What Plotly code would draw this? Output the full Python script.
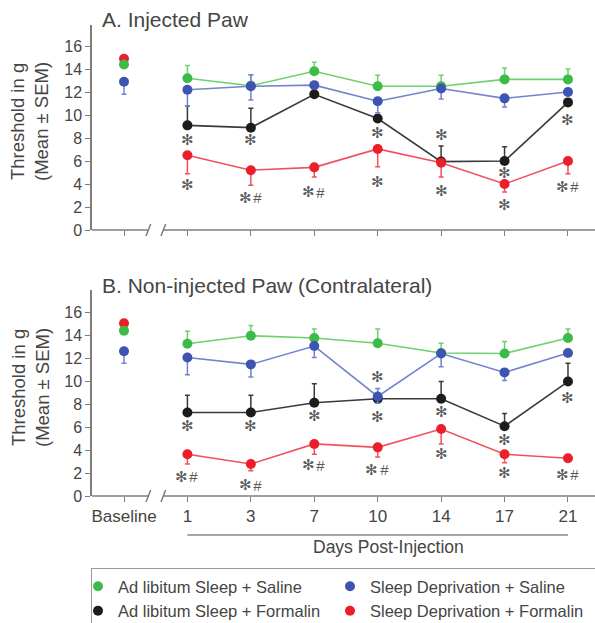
import plotly.graph_objects as go

# ---------------- data ----------------
categories = ["Baseline", "1", "3", "7", "10", "14", "17", "21"]
series_names = ["Ad libitum Sleep + Saline", "Sleep Deprivation + Saline",
                "Ad libitum Sleep + Formalin", "Sleep Deprivation + Formalin"]

# Panel A: Injected Paw (baseline value, then days 1..21)
A_green_base, A_blue_base, A_red_base = 14.4, 12.9, 14.9
A_blue_base_dn = 1.1
A_green = [13.2, 12.55, 13.8, 12.5, 12.5, 13.1, 13.1]
A_green_up = [1.1, 0.95, 0.8, 0.95, 0.95, 1.0, 0.9]
A_blue = [12.2, 12.5, 12.6, 11.2, 12.3, 11.45, 12.0]
A_blue_up = [0, 1.0, 0, 0, 0, 0, 0]
A_blue_dn = [1.4, 1.2, 0.3, 1.0, 0.9, 0.75, 0.3]
A_black = [9.1, 8.9, 11.8, 9.7, 5.95, 6.0, 11.1]
A_black_up = [1.7, 1.7, 0.2, 0.3, 1.35, 1.25, 0.3]
A_red = [6.5, 5.2, 5.45, 7.05, 5.85, 4.0, 6.0]
A_red_dn = [1.6, 1.3, 0.85, 1.55, 1.25, 0.7, 1.1]
A_sig_x = [1, 1, 2, 2, 3, 4, 4, 5, 5, 6, 6, 7, 7]
A_sig_y = [7.8, 3.9, 7.8, 2.8, 3.3, 8.4, 4.2, 8.3, 3.4, 5.0, 2.2, 9.6, 3.75]
A_sig_t = ["*", "*", "*", "*#", "*#", "*", "*", "*", "*", "*", "*", "*", "*#"]

# Panel B: Non-injected Paw
B_green_base, B_blue_base, B_red_base = 14.45, 12.65, 15.1
B_blue_base_dn = 1.05
B_green = [13.3, 14.0, 13.8, 13.35, 12.5, 12.45, 13.8]
B_green_up = [1.1, 0.9, 0.8, 1.25, 0.85, 1.05, 0.8]
B_blue = [12.1, 11.5, 13.1, 8.7, 12.45, 10.8, 12.5]
B_blue_up = [0, 0, 0, 0.7, 0, 0, 0]
B_blue_dn = [1.5, 1.1, 1.0, 0.6, 1.15, 0.7, 0.2]
B_black = [7.3, 7.3, 8.15, 8.5, 8.5, 6.1, 10.0]
B_black_up = [1.5, 1.5, 1.65, 0, 1.5, 1.1, 1.6]
B_red = [3.65, 2.8, 4.55, 4.25, 5.85, 3.65, 3.3]
B_red_dn = [0.85, 0.6, 0.9, 0.85, 1.3, 0.75, 0.2]
B_sig_x = [1, 1, 2, 2, 3, 3, 4, 4, 4, 5, 5, 6, 6, 7, 7]
B_sig_y = [6.1, 1.7, 6.1, 0.95, 7.0, 2.7, 10.4, 6.9, 2.3, 7.35, 3.7, 4.9, 2.0, 8.6, 1.85]
B_sig_t = ["*", "*#", "*", "*#", "*", "*#", "*", "*", "*#", "*", "*", "*", "*", "*", "*#"]

yticks = [0, 2, 4, 6, 8, 10, 12, 14, 16]

# ---------------- style ----------------
W, H = 595, 623
FONT = "Liberation Sans, Arial, sans-serif"
TXT = "#454545"
AX = "#7d7d7d"
SIG = "#5a5a5a"
mk = {"green": "#3dbb48", "blue": "#3d55b0", "black": "#1c1c1c", "red": "#ea1f2b"}
ln = {"green": "#6fd070", "blue": "#7184cc", "black": "#3a3a3a", "red": "#f2515a"}

def py(p):
    return 1 - p / H

def px(p):
    return p / W

fig = go.Figure()
day_x = list(range(1, len(categories)))

def add_panel(xa, ya, g, gu, b, bu, bd, k, ku, r, rd, gb, bb, bbd, rb):
    zeros = [0] * len(day_x)
    specs = [
        ("black", k, ku, zeros),
        ("red", r, zeros, rd),
        ("green", g, gu, zeros),
        ("blue", b, bu, bd),
    ]
    for key, vals, up, dn in specs:
        fig.add_trace(go.Scatter(
            x=day_x, y=vals, mode="lines+markers", xaxis=xa, yaxis=ya,
            line=dict(color=ln[key], width=1.6),
            marker=dict(color=mk[key], size=10),
            error_y=dict(type="data", symmetric=False, array=up, arrayminus=dn,
                         color=ln[key], thickness=1.5, width=2.5),
            showlegend=False, hoverinfo="skip"))
    base = [("red", rb, 0), ("green", gb, 0), ("blue", bb, bbd)]
    for key, v, dn in base:
        fig.add_trace(go.Scatter(
            x=[0], y=[v], mode="markers", xaxis=xa, yaxis=ya,
            marker=dict(color=mk[key], size=10),
            error_y=dict(type="data", symmetric=False, array=[0], arrayminus=[dn],
                         color=ln[key], thickness=1.5, width=2.5),
            showlegend=False, hoverinfo="skip"))

add_panel("x", "y", A_green, A_green_up, A_blue, A_blue_up, A_blue_dn,
          A_black, A_black_up, A_red, A_red_dn,
          A_green_base, A_blue_base, A_blue_base_dn, A_red_base)
add_panel("x2", "y2", B_green, B_green_up, B_blue, B_blue_up, B_blue_dn,
          B_black, B_black_up, B_red, B_red_dn,
          B_green_base, B_blue_base, B_blue_base_dn, B_red_base)

# legend-only entries
for name, key in zip(series_names, ["green", "blue", "black", "red"]):
    fig.add_trace(go.Scatter(x=[None], y=[None], mode="markers", name=name,
                             marker=dict(color=mk[key], size=10), xaxis="x2", yaxis="y2"))

# ---------------- layout ----------------
xr = [-0.5045, 7.426]
xcommon = dict(range=xr, tickmode="array", tickvals=list(range(len(categories))),
               ticks="outside", ticklen=5, tickwidth=1.3, tickcolor=AX,
               showline=False, showgrid=False, zeroline=False,
               domain=[px(92), 1.0], fixedrange=True)
ycommon = dict(tickmode="array", tickvals=yticks, ticks="outside", ticklen=5,
               tickwidth=1.3, tickcolor=AX, showline=True, linecolor=AX, linewidth=1.5,
               showgrid=False, zeroline=False, tickfont=dict(size=16, color=TXT, family=FONT),
               fixedrange=True)

fig.update_layout(
    width=W, height=H, margin=dict(l=0, r=0, t=0, b=0, autoexpand=False),
    paper_bgcolor="white", plot_bgcolor="white",
    font=dict(family=FONT, color=TXT),
    xaxis=dict(**xcommon, anchor="y", showticklabels=False),
    yaxis=dict(**ycommon, anchor="x", domain=[py(230), py(25)], range=[0, 17.83]),
    xaxis2=dict(**xcommon, anchor="y2", showticklabels=True, ticktext=categories,
                tickfont=dict(size=17, color=TXT, family=FONT)),
    yaxis2=dict(**ycommon, anchor="x2", domain=[py(496), py(290)], range=[0, 18.0]),
    showlegend=True,
    legend=dict(orientation="h", x=px(91), xanchor="left", y=py(568), yanchor="top",
                entrywidth=221, entrywidthmode="pixels", indentation=-14,
                bordercolor="#9a9a9a", borderwidth=1, bgcolor="white",
                font=dict(size=16.5, color=TXT, family=FONT), traceorder="normal"),
)

shapes = []
for xa, base_px in [("x", 230), ("x2", 496)]:
    # broken x-axis line
    shapes.append(dict(type="line", xref=xa, yref="paper", x0=xr[0], x1=0.384,
                       y0=py(base_px), y1=py(base_px), line=dict(color=AX, width=1.5)))
    shapes.append(dict(type="line", xref=xa, yref="paper", x0=0.62, x1=xr[1],
                       y0=py(base_px), y1=py(base_px), line=dict(color=AX, width=1.5)))
    for cx in [0.384, 0.62]:
        shapes.append(dict(type="line", xref=xa, yref="paper", x0=cx - 0.037, x1=cx + 0.037,
                           y0=py(base_px + 6), y1=py(base_px - 6),
                           line=dict(color=AX, width=1.5)))
# "Days Post-Injection" bracket line
shapes.append(dict(type="line", xref="x2", yref="paper", x0=1, x1=7,
                   y0=py(535), y1=py(535), line=dict(color="#8a8a8a", width=1.5)))
fig.update_layout(shapes=shapes)

ann = []
ann.append(dict(text="A. Injected Paw", xref="paper", yref="paper", x=px(100), y=py(20),
                xanchor="left", yanchor="middle", showarrow=False,
                font=dict(size=21, color=TXT, family=FONT)))
ann.append(dict(text="B. Non-injected Paw (Contralateral)", xref="paper", yref="paper",
                x=px(100), y=py(285), xanchor="left", yanchor="middle", showarrow=False,
                font=dict(size=21, color=TXT, family=FONT)))
for cy in [122, 388]:
    ann.append(dict(text="Threshold in g<br>(Mean ± SEM)", xref="paper", yref="paper",
                    x=px(30), y=py(cy), xanchor="center", yanchor="middle",
                    textangle=-90, showarrow=False,
                    font=dict(size=18.5, color=TXT, family=FONT)))
ann.append(dict(text="Days Post-Injection", xref="paper", yref="paper", x=px(388), y=py(547),
                xanchor="center", yanchor="middle", showarrow=False,
                font=dict(size=17.5, color=TXT, family=FONT)))

# significance marks
for xa, ya, xs, ys, ts in [("x", "y", A_sig_x, A_sig_y, A_sig_t),
                           ("x2", "y2", B_sig_x, B_sig_y, B_sig_t)]:
    for xv, yv, t in zip(xs, ys, ts):
        has_hash = t.endswith("#")
        sx = xv - 0.09 if has_hash else xv
        ann.append(dict(text="\u273B", xref=xa, yref=ya, x=sx, y=yv,
                        xanchor="center", yanchor="middle", showarrow=False,
                        font=dict(size=15, color=SIG, family="DejaVu Sans")))
        if has_hash:
            ann.append(dict(text="<i>#</i>", xref=xa, yref=ya, x=xv + 0.1, y=yv,
                            xanchor="center", yanchor="middle", showarrow=False,
                            font=dict(size=15, color=SIG, family=FONT)))
fig.update_layout(annotations=ann)

fig.write_html("out.html")
